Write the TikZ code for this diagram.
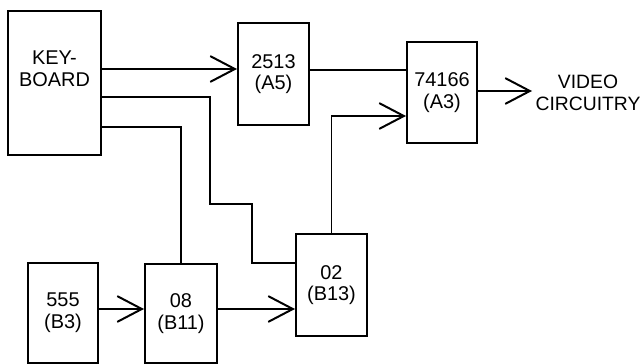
\documentclass[tikz,border=0pt]{standalone}
\usepackage{fontspec}
\setmainfont{Liberation Sans}
\usetikzlibrary{arrows.meta, positioning, calc}
\tikzset{
  chip/.style={draw, line width=1.7pt, align=center, inner sep=0pt,
    minimum width=2.13cm, minimum height=3.03cm,
    font=\fontsize{17}{18.5}\selectfont},
  wire/.style={line width=1.7pt},
  feed/.style={wire, -{Straight Barb[length=21pt,width=22pt,line width=1.7pt]}}
}
\begin{document}
\begin{tikzpicture}[x=0.03cm,y=-0.03cm]
            \useasboundingbox (0,0) rectangle (642,364);

            % Blocks
            \node[chip, minimum width=2.79cm, minimum height=4.32cm] (kbd) at (54.5,83) {KEY-\\BOARD\\[6pt]};
            \node[chip, minimum height=3.06cm] (a5) at (273.5,74) {2513\\(A5)};
            \node[chip, minimum width=2.1cm] (a3) at (442,92.5) {74166\\(A3)};
            \node[chip, minimum width=2.1cm, minimum height=3.0cm] (b3) at (63,313) {555\\(B3)};
            \node[chip, minimum width=2.16cm, minimum height=2.97cm] (b11) at (181,313.5) {08\\(B11)};
            \node[chip, minimum height=3.06cm] (b13) at (331.5,285) {02\\(B13)};
            \node[align=center, anchor=west, inner sep=0.1cm,
              font=\fontsize{16.5}{18.5}\selectfont] (video) at (532,93) {VIDEO\\CIRCUITRY};

            % Keyboard outputs
            \draw[feed] (kbd.east |- 0,69) -- (a5.west |- 0,69);
            \draw[wire] (kbd.east |- 0,97) -| (210,204) -| (252,263) -- (b13.west |- 0,263);
            \draw[wire] (kbd.east |- 0,127) -| (b11.north);

            % Clock chain
            \draw[feed] (b3.east |- 0,309) -- (b11.west |- 0,309);
            \draw[feed] (b11.east |- 0,309) -- (b13.west |- 0,309);

            % Into the shift register
            \draw[wire] (a5.east |- 0,70) -- (a3.west |- 0,70);
            \draw[feed] (b13.north) |- (a3.west |- 0,116);

            % Output
            \draw[feed] (a3.east |- 0,91) -- (video.west |- 0,91);
\end{tikzpicture}
\end{document}
